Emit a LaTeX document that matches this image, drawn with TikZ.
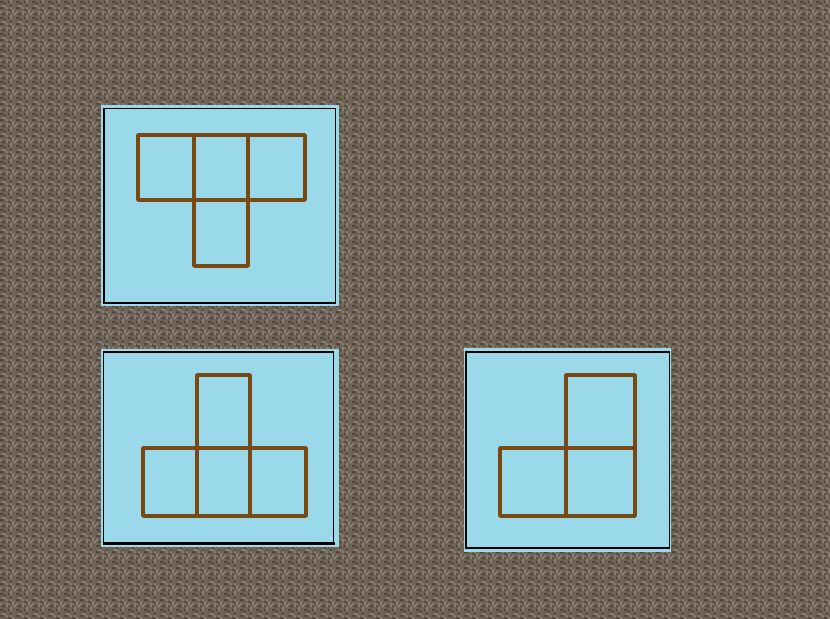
\documentclass[tikz,border=0pt]{standalone}
\usetikzlibrary{patterns}
\definecolor{bgbrown}{RGB}{110,99,86}
\definecolor{bgdark}{RGB}{82,72,62}
\definecolor{bglight}{RGB}{140,128,114}
\definecolor{panelblue}{RGB}{153,217,234}
\definecolor{stick}{RGB}{122,72,18}
\pgfmathsetseed{7}
\pgfdeclarepatterninherentlycolored{fabric}{\pgfpointorigin}{\pgfpoint{13.6pt}{13.6pt}}{\pgfpoint{13.6pt}{13.6pt}}{%
  \foreach \i in {0,...,7}{%
    \foreach \j in {0,...,7}{%
      \pgfmathrandominteger{\r}{0}{5}%
      \ifnum\r=0
        \pgfsetfillcolor{bgdark}%
        \pgfpathrectangle{\pgfpoint{\i*1.7pt}{\j*1.7pt}}{\pgfpoint{1.7pt}{1.7pt}}%
        \pgfusepath{fill}%
      \fi
      \ifnum\r=1
        \pgfsetfillcolor{bglight}%
        \pgfpathrectangle{\pgfpoint{\i*1.7pt}{\j*1.7pt}}{\pgfpoint{1.7pt}{1.7pt}}%
        \pgfusepath{fill}%
      \fi
    }%
  }%
}
\tikzset{
  panel/.style={fill=panelblue, draw=none},
  frame/.style={draw=black, line width=1.4pt},
  sticks/.style={draw=stick, line width=2.9pt, line cap=round, line join=round}
}
\begin{document}
\begin{tikzpicture}[x=0.03cm,y=-0.03cm]
\fill[bgbrown] (0,0) rectangle (830,619);
\fill[pattern=fabric] (0,0) rectangle (830,619);
\useasboundingbox (0,0) rectangle (830,619);
% Panel 1 (T shape)
\fill[panel] (101,105) rectangle (339,306);
\draw[frame] (104,108.5) rectangle (335.5,302.5);
\draw[black, line width=2.2pt] (104,108) -- (104,303) -- (336,303);
\draw[sticks] (138,135) rectangle (305,200);
\draw[sticks] (194,135) -- (194,266) -- (248,266) -- (248,135);
% Panel 2 (inverted T)
\fill[panel] (101,349) rectangle (339,547);
\draw[black, line width=1pt] (103,352) -- (333.5,352) -- (333.5,543);
\draw[black, line width=2.4pt] (103,543.5) -- (335,543.5);
\draw[black, line width=0.8pt] (103,352) -- (103,543);
\draw[sticks] (143,448) rectangle (306,516);
\draw[sticks] (197,516) -- (197,375) -- (250,375) -- (250,516);
% Panel 3 (L shape)
\fill[panel] (464,348) rectangle (671,552);
\draw[frame] (466,352) rectangle (669.5,548);
\draw[sticks] (500,448) rectangle (635,516);
\draw[sticks] (566,516) -- (566,375) -- (635,375) -- (635,448);
\end{tikzpicture}
\end{document}
